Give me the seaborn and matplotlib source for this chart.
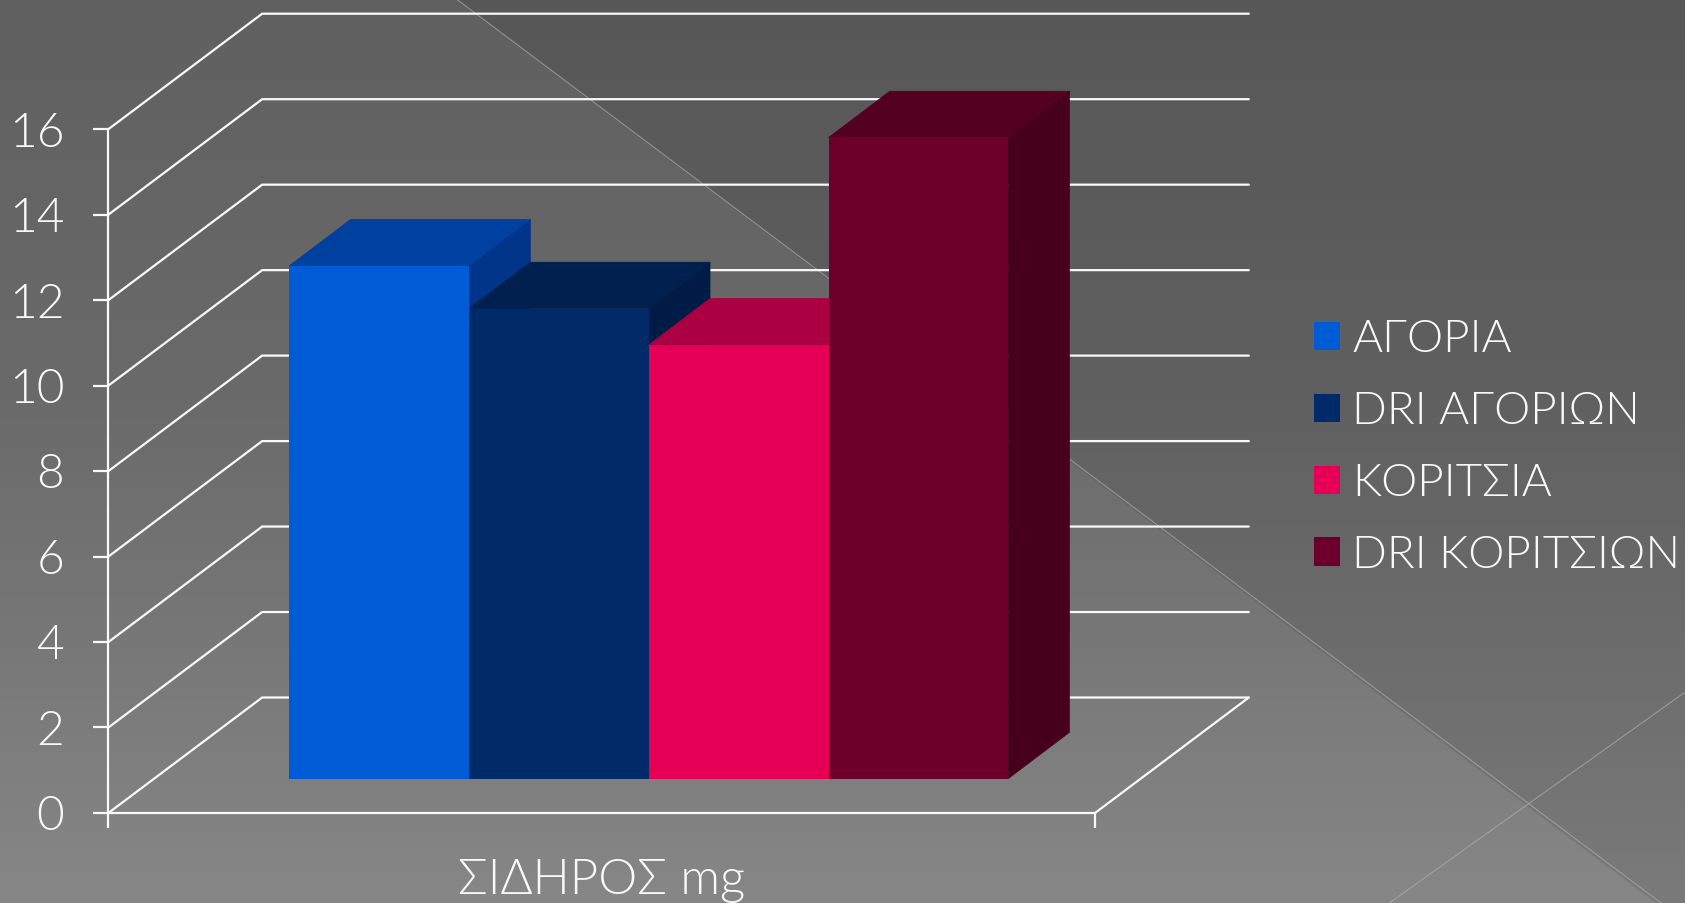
import numpy as np
import pandas as pd
import matplotlib
matplotlib.use("Agg")
import matplotlib.pyplot as plt
from matplotlib.patches import Polygon
import seaborn as sns

# Iron intake (mg) and the matching reference intakes
nutrient = "ΣΙΔΗΡΟΣ mg"
series = ["ΑΓΟΡΙΑ", "DRI ΑΓΟΡΙΩΝ", "ΚΟΡΙΤΣΙΑ", "DRI ΚΟΡΙΤΣΙΩΝ"]
values = [12, 11, 10.15, 15]
y_ticks = [0, 2, 4, 6, 8, 10, 12, 14, 16]

front_colors = ["#005cd6", "#002b68", "#e50056", "#6d002b"]
top_colors = ["#0041a0", "#00204f", "#ab0042", "#54001f"]
side_colors = ["#00358a", "#001c46", "#8f0038", "#46001c"]

W, H = 1685, 903
FONT = "Lato"
INK = "#f9f9f9"
TICK_PT = 34.5
AXIS_PT = 35.5
LEGEND_PT = 33

sns.set_theme(style="white")
plt.rcParams["font.family"] = [FONT, "DejaVu Sans"]
plt.rcParams["font.weight"] = 300

fig = plt.figure(figsize=((W + 0.4) / 100, (H + 0.4) / 100), dpi=100)


def axes_from_pixels(left, top, right, bottom):
    return fig.add_axes([left / W, 1 - bottom / H, (right - left) / W, (bottom - top) / H])


# Slide backdrop: grey vertical gradient, one darker triangle, two hairlines
bg = fig.add_axes([0, 0, 1, 1])
bg.set_xlim(0, W)
bg.set_ylim(H, 0)
bg.axis("off")
grey = np.interp(np.arange(H), [0, 400, 650, 903], [96, 106, 120, 135]) / 255
bg.imshow(np.repeat(grey[:, None], 3, axis=1)[:, None, :], extent=(0, W, H, 0), aspect="auto", zorder=0)
bg.add_patch(Polygon([(457, 0), (W, 0), (W, 925)], closed=True, fc="black", alpha=0.09, ec="none", zorder=1))
bg.plot([457, 1690], [0, 925], color="#b0b0b0", lw=0.8, alpha=0.65, zorder=2)
bg.plot([1389, W], [903, 692], color="#b0b0b0", lw=0.8, alpha=0.65, zorder=2)

# Front plane of the chart frame
frame = axes_from_pixels(108.4, 129.5, 1094.8, 813)
frame.patch.set_alpha(0)
frame.set_xlim(0, 1)
frame.set_ylim(0, 16)
for name in ("top", "right"):
    frame.spines[name].set_visible(False)
for name in ("left", "bottom"):
    frame.spines[name].set_color(INK)
    frame.spines[name].set_linewidth(1.6)
frame.set_yticks(y_ticks)
frame.set_xticks([0, 1], labels=["", ""])
frame.set_xticks([0.5], labels=[nutrient], minor=True)
frame.tick_params(axis="y", which="major", left=True, length=10.8, width=1.6, color=INK,
                  labelcolor=INK, labelsize=TICK_PT, pad=21)
frame.tick_params(axis="x", which="major", bottom=True, length=10.6, width=1.6, color=INK)
frame.tick_params(axis="x", which="minor", bottom=False, labelcolor=INK, labelsize=AXIS_PT, pad=28)

# Side and back walls of the frame, receding from the front plane
wall_dx = 153.7 / 986.4
wall_dy = 115.4 / 42.72
for t in y_ticks:
    frame.plot([0, wall_dx, 1 + wall_dx], [t, t + wall_dy, t + wall_dy], color=INK, lw=1.6,
               clip_on=False, solid_joinstyle="miter")
frame.plot([1, 1 + wall_dx], [0, wall_dy], color=INK, lw=1.6, clip_on=False)

# Bars sit on a floor set back from the front plane
bars = axes_from_pixels(289.3, 95, 1008, 778.7)
bars.patch.set_alpha(0)
table = pd.DataFrame({"nutrient": nutrient, "series": series, "value": values})
sns.barplot(data=table, x="nutrient", y="value", hue="series", hue_order=series, palette=front_colors,
            width=1, gap=0, saturation=1, errorbar=None, legend=True, ax=bars)
bars.set_xlim(-0.5, 0.5)
bars.set_ylim(0, (778.7 - 95) / 42.72)
bars.axis("off")

bar_dx = 61.2 / 718.7
bar_dy = 46.3 / 42.72
for i, rect in enumerate(bars.patches[:len(series)]):
    x0, w, h = rect.get_x(), rect.get_width(), rect.get_height()
    x1 = x0 + w
    rect.set_zorder(2 * i + 3)
    rect.set_linewidth(0)
    top = [(x0, h), (x1, h), (x1 + bar_dx, h + bar_dy), (x0 + bar_dx, h + bar_dy)]
    side = [(x1, 0), (x1 + bar_dx, bar_dy), (x1 + bar_dx, h + bar_dy), (x1, h)]
    # Hairline edges in the face colour close the antialiasing seams between faces
    bars.add_patch(Polygon(side, closed=True, fc=side_colors[i], ec=side_colors[i], lw=0.5,
                           zorder=2 * i + 2, clip_on=False))
    bars.add_patch(Polygon(top, closed=True, fc=top_colors[i], ec=top_colors[i], lw=0.5,
                           zorder=2 * i + 2, clip_on=False))

handles, labels = bars.get_legend_handles_labels()
bars.get_legend().remove()
for handle in handles:
    handle.set_linewidth(0)
font_px = LEGEND_PT * 100 / 72
fig.legend(handles, labels, loc="center left", bbox_to_anchor=(1314 / W, 1 - 447.5 / H),
           frameon=False, fontsize=LEGEND_PT, labelcolor=INK, borderpad=0, borderaxespad=0,
           handlelength=26 / font_px, handleheight=26 / font_px, handletextpad=12 / font_px,
           labelspacing=0.675)

fig.savefig("out.png", dpi=100)
